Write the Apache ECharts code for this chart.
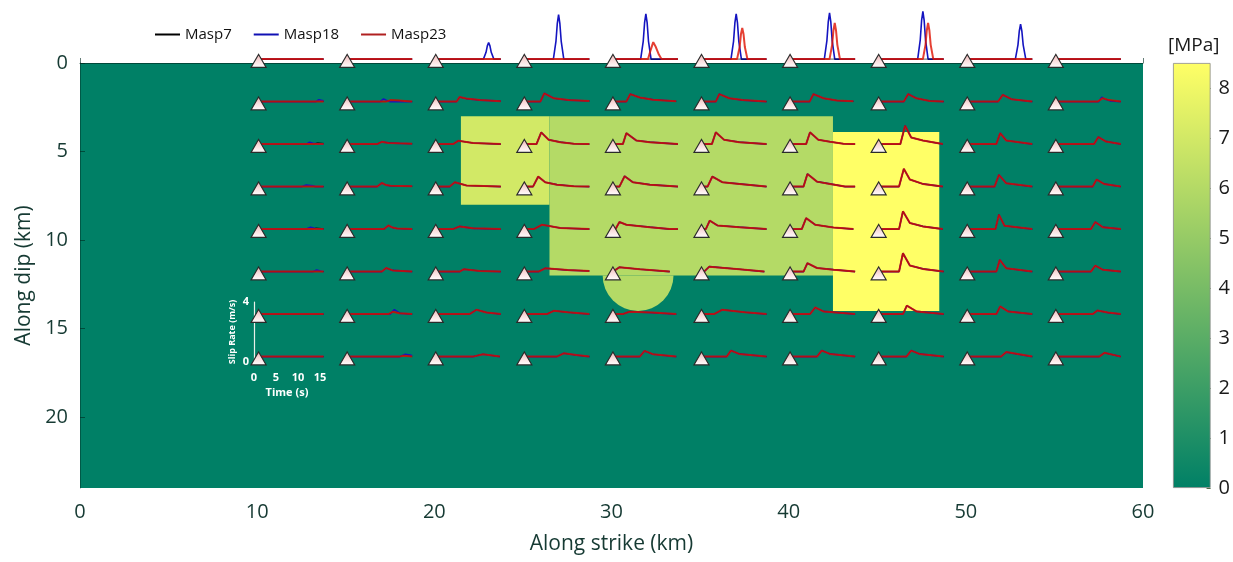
<!DOCTYPE html>
<html>
<head>
<meta charset="utf-8">
<script src="https://cdn.jsdelivr.net/npm/echarts@6/dist/echarts.min.js"></script>
<style>html,body{margin:0;padding:0;background:#fff}#chart{width:1233px;height:562px}</style>
</head>
<body>
<div id="chart"></div>
<script>
// ---------------- data ----------------
const strikeKm = [10, 15, 20, 25, 30, 35, 40, 45, 50, 55];
const dipKm = [0, 2.4, 4.8, 7.2, 9.6, 12, 14.4, 16.8];
const modelNames = ['Masp7', 'Masp18', 'Masp23'];

// prestress patches: [x0, x1, y0, y1, MPa]
const stressRects = [
  [0, 60, 0, 24, 0],
  [21.5, 26.5, 3, 8, 7],
  [26.5, 42.5, 3, 12, 6],
  [42.5, 48.5, 3.9, 14, 8.5]
];
// half disk below patch: [cx, cy, radius, MPa]
const stressDisks = [[31.5, 12, 2, 6]];
const colorbarRange = [0, 8.5];

// slip-rate keypoints per station: [time s, slip rate m/s]
const FLAT = [[0, 0], [15, 0]];

// Masp23 (rows = dip, cols = strike)
const masp23 = [
  [FLAT, FLAT, FLAT, FLAT,
   [[0,0],[8.1,0],[8.7,0.6],[9.3,1.13],[9.9,0.8],[10.6,0.3],[11.2,0],[15,0]],
   [[0,0],[8.2,0],[8.8,0.8],[9.1,1.65],[9.4,2.07],[9.7,1.65],[10.0,0.8],[10.6,0],[15,0]],
   [[0,0],[9.1,0],[9.7,0.95],[10.0,1.9],[10.3,2.4],[10.6,1.9],[10.9,0.95],[11.5,0],[15,0]],
   [[0,0],[10.2,0],[10.8,0.95],[11.1,1.9],[11.4,2.4],[11.7,1.9],[12.0,0.95],[12.6,0],[15,0]],
   FLAT, FLAT],
  [FLAT,
   [[0,0],[9,0],[10,0.1],[12,0.08],[14,0.03],[15,0]],
   [[0,0],[4.8,0],[5.5,0.3],[7,0.2],[10.2,0.1],[15,0.03]],
   [[0,0],[3.7,0],[4.6,0.55],[6.8,0.22],[10.2,0.1],[15,0.04]],
   [[0,0],[3.1,0],[4.0,0.5],[6.2,0.27],[9.2,0.13],[14.6,0.02]],
   [[0,0],[3.3,0],[4.1,0.5],[6.4,0.22],[9.5,0.1],[15,0]],
   [[0,0],[4.5,0],[5.4,0.5],[7.7,0.22],[10.8,0.07],[14.6,0.02]],
   [[0,0],[5.8,0],[6.8,0.5],[8.7,0.22],[11.8,0.04],[15,0]],
   [[0,0],[7.1,0],[8.2,0.45],[10.2,0.16],[15,0]],
   [[0,0],[9.6,0],[10.8,0.22],[12.3,0.1],[15,0]]],
  [FLAT,
   [[0,0],[6.9,0],[8,0.15],[9.5,0.08],[12,0.05],[15,0.02]],
   [[0,0],[4.0,0],[5.2,0.22],[8.6,0.07],[15,0]],
   [[0,0],[2.8,0],[3.9,0.78],[5.6,0.29],[8.3,0.13],[11.4,0.02],[15,0]],
   [[0,0],[2.3,0],[3.1,0.73],[5.4,0.24],[8.5,0.13],[15,0]],
   [[0,0],[2.4,0],[3.3,0.78],[5.2,0.29],[8.7,0.13],[15,0]],
   [[0,0],[3.7,0],[4.6,0.78],[6.5,0.29],[9.2,0.16],[12.3,0.02],[15,0]],
   [[0,0],[5.0,0],[6.1,1.22],[7.5,0.44],[10.2,0.24],[14.8,0]],
   [[0,0],[6.7,0],[7.6,0.73],[9.0,0.24],[15,0]],
   [[0,0],[8.8,0],[9.8,0.47],[11.5,0.18],[15,0]]],
  [FLAT,
   [[0,0],[6.9,0],[8,0.24],[9,0.1],[10,0.05],[15,0.02]],
   [[0,0],[3.2,0],[4.4,0.29],[7.1,0.07],[15,0]],
   [[0,0],[2.0,0],[3.2,0.67],[4.8,0.29],[7.5,0.13],[11.4,0.02],[15,0]],
   [[0,0],[1.5,0],[2.7,0.69],[4.6,0.29],[8.5,0.13],[15,0]],
   [[0,0],[1.4,0],[2.5,0.67],[4.8,0.29],[8.7,0.18],[15,0]],
   [[0,0],[3.1,0],[4.0,0.84],[6.2,0.33],[9.2,0.18],[12.7,0],[15,0]],
   [[0,0],[4.7,0],[5.8,1.18],[7.2,0.47],[10.2,0.18],[14.8,0]],
   [[0,0],[6.3,0],[7.3,0.78],[9.0,0.22],[15,0]],
   [[0,0],[8.5,0],[9.4,0.47],[11.1,0.18],[15,0]]],
  [FLAT,
   [[0,0],[8.5,0],[9.5,0.24],[10.5,0.1],[11.5,0.04],[15,0]],
   [[0,0],[4,0],[5.5,0.18],[8.6,0.05],[15,0]],
   [[0,0],[2.2,0],[4.1,0.29],[8.3,0.07],[15,0]],
   [[0,0],[0.6,0],[1.5,0.47],[3.1,0.29],[8.5,0.13],[13.1,0],[15,0]],
   [[0,0],[1.0,0],[1.9,0.56],[3.7,0.24],[8.7,0.13],[15,0]],
   [[0,0],[2.7,0],[3.7,0.73],[5.8,0.29],[10,0.11],[14.6,0]],
   [[0,0],[4.7,0],[5.6,1.18],[7.2,0.4],[10.2,0.18],[14.8,0]],
   [[0,0],[6.5,0],[7.3,0.96],[8.6,0.22],[15,0]],
   [[0,0],[8.1,0],[9.1,0.47],[10.8,0.13],[15,0]]],
  [FLAT,
   [[0,0],[8,0],[9,0.24],[10.5,0.08],[15,0]],
   [[0,0],[5.5,0],[6.5,0.16],[10.2,0.04],[15,0]],
   [[0,0],[3.3,0],[4.8,0.22],[10,0.1],[15,0.04]],
   [[0,0],[0.4,0],[1.5,0.29],[6.2,0.16],[13.1,0]],
   [[0,0],[0.6,0],[1.8,0.33],[8.7,0.16],[14.5,0]],
   [[0,0],[3.1,0],[4.0,0.56],[6.2,0.24],[10,0.13],[15,0]],
   [[0,0],[4.7,0],[5.6,1.22],[7.2,0.4],[10.2,0.18],[15,0]],
   [[0,0],[6.7,0],[7.5,0.78],[9.0,0.22],[15,0]],
   [[0,0],[8.1,0],[9.1,0.4],[10.8,0.13],[15,0]]],
  [FLAT,
   [[0,0],[9.5,0],[10.5,0.15],[12,0.06],[15,0]],
   [[0,0],[7.8,0],[9.4,0.29],[11.7,0.11],[15,0]],
   [[0,0],[5.2,0],[6.8,0.22],[10,0.12],[15,0]],
   [[0,0],[2.3,0],[3.8,0.16],[9,0.1],[14.6,0]],
   [[0,0],[2.9,0],[4.8,0.29],[10,0.12],[15,0]],
   [[0,0],[4.6,0],[5.8,0.44],[7.7,0.18],[15,0]],
   [[0,0],[5.6,0],[6.5,0.56],[8.7,0.18],[15,0]],
   [[0,0],[6.7,0],[7.6,0.51],[9.4,0.18],[15,0]],
   [[0,0],[8.5,0],[9.6,0.24],[12,0.1],[15,0]]],
  [FLAT,
   [[0,0],[12,0],[13,0.06],[15,0]],
   [[0,0],[8.6,0],[10.9,0.16],[14.8,0]],
   [[0,0],[7.5,0],[9.1,0.22],[12,0.1],[15,0]],
   [[0,0],[6.2,0],[7.3,0.38],[9.2,0.16],[14.6,0]],
   [[0,0],[5.8,0],[6.8,0.4],[8.7,0.18],[15,0]],
   [[0,0],[6.2,0],[7.3,0.4],[9.2,0.18],[15,0]],
   [[0,0],[6.4,0],[7.5,0.4],[9.4,0.18],[15,0]],
   [[0,0],[7.8,0],[9.0,0.3],[15,0]],
   [[0,0],[10,0],[11.2,0.25],[15,0]]]
];

// Masp18: null = overlaps Masp23 at that station
const masp18 = [
  [FLAT, FLAT,
   [[0,0],[11.0,0],[11.6,0.45],[11.9,0.88],[12.2,1.1],[12.5,0.88],[12.8,0.45],[13.4,0],[15,0]],
   [[0,0],[6.7,0],[7.3,1.2],[7.6,2.35],[7.9,2.95],[8.2,2.35],[8.5,1.2],[9.1,0],[15,0]],
   [[0,0],[6.4,0],[7.0,1.2],[7.3,2.4],[7.6,3.0],[7.9,2.4],[8.2,1.2],[8.8,0],[15,0]],
   [[0,0],[6.8,0],[7.4,1.2],[7.7,2.4],[8.0,3.0],[8.3,2.4],[8.6,1.2],[9.2,0],[15,0]],
   [[0,0],[7.9,0],[8.5,1.25],[8.8,2.45],[9.1,3.07],[9.4,2.45],[9.7,1.25],[10.3,0],[15,0]],
   [[0,0],[9.0,0],[9.6,1.3],[9.9,2.55],[10.2,3.17],[10.5,2.55],[10.8,1.3],[11.4,0],[15,0]],
   [[0,0],[11.1,0],[11.7,0.95],[12.0,1.85],[12.3,2.33],[12.6,1.85],[12.9,0.95],[13.5,0],[15,0]],
   FLAT],
  [[[0,0],[13.2,0],[13.9,0.12],[14.5,0.08],[15,0.05]],
   [[0,0],[7.6,0],[8.4,0.18],[9.2,0.06],[9.8,0],[15,0]],
   null, null, null, null, null, null, null,
   [[0,0],[9.9,0],[10.6,0.3],[11.4,0.15],[12.5,0.05],[15,0]]],
  [[[0,0],[11,0],[11.8,0.12],[12.8,0.03],[15,0]], null, null, null, null, null, null, null, null, null],
  [[[0,0],[10,0],[11,0.1],[12.5,0.05],[13.2,0],[15,0]], null, null, null, null, null, null, null, null, null],
  [[[0,0],[11,0],[12,0.12],[13.3,0.02],[15,0]], null, null, null, null, null, null, null, null, null],
  [[[0,0],[12.6,0],[13.4,0.1],[14.5,0.02],[15,0]], null, null, null, null, null, null, null, null, null],
  [FLAT, [[0,0],[9.9,0],[10.9,0.3],[12.2,0.05],[15,0]], null, null, null, null, null, null, null, null],
  [FLAT, [[0,0],[12.2,0],[13.4,0.16],[14.5,0.1],[15,0.05]], null, null, null, null, null, null, null, null]
];

// Masp7: null = overlaps Masp23 at that station
const masp7 = [
  [FLAT, FLAT, FLAT, FLAT, FLAT, FLAT, FLAT, FLAT, FLAT, FLAT],
  [FLAT, null, null, null, null, null, null, null, null, null],
  [[[0,0],[12.8,0],[13.6,0.1],[14.6,0.06],[15,0.05]], null, null, null, null, null, null, null, null, null],
  [FLAT, null, null, null, null, null, null, null, null, null],
  [[[0,0],[12.5,0],[13.3,0.08],[14.5,0.04],[15,0.02]], null, null, null, null, null, null, null, null, null],
  [FLAT, null, null, null, null, null, null, null, null, null],
  [FLAT, null, null, null, null, null, null, null, null, null],
  [FLAT, null, null, null, null, null, null, null, null, null]
];

// ---------------- rendering ----------------
const T_SCALE = 0.2447;   // km of strike per second of trace
const A_SCALE = 0.85;     // km of dip per m/s of slip rate
const TRACE_DY = -0.22;   // baseline offset of traces (km)
const TRI_DY = -0.12;
const STA_DX = 0.08;

function summer(v) {
  const r = Math.max(0, Math.min(1, (v - colorbarRange[0]) / (colorbarRange[1] - colorbarRange[0])));
  return 'rgb(' + Math.round(255 * r) + ',' + Math.round(255 * (0.5 + 0.5 * r)) + ',102)';
}

function traceData(model) {
  const out = [];
  dipKm.forEach((d, r) => strikeKm.forEach((s, c) => {
    const pts = model[r][c] || masp23[r][c];
    pts.forEach(p => out.push([s + STA_DX + p[0] * T_SCALE, d + TRACE_DY - p[1] * A_SCALE]));
    out.push(null);
  }));
  return out;
}

const stations = [];
dipKm.forEach(d => strikeKm.forEach(s => stations.push([s + STA_DX, d + TRI_DY])));

const FONT = 'Open Sans';
const TXT = '#163a33';

const chart = echarts.init(document.getElementById('chart'), null, {renderer: 'canvas'});
const option = {
  animation: false,
  backgroundColor: '#ffffff',
  textStyle: {fontFamily: FONT},
  title: {
    text: '[MPa]', left: 1163, top: 31,
    textStyle: {fontFamily: FONT, fontSize: 19, fontWeight: 'normal', color: '#1a1a1a'}
  },
  legend: {
    data: modelNames, left: 150, top: 22, itemGap: 22, itemWidth: 25, itemHeight: 2,
    icon: 'rect', selectedMode: false,
    textStyle: {fontFamily: FONT, fontSize: 15, color: '#111'}
  },
  grid: [
    {left: 80, top: 63, width: 1063, height: 425},
    {left: 1173, top: 63, width: 39, height: 425},
    {left: 254, top: 302, width: 66, height: 60}
  ],
  xAxis: [
    {gridIndex: 0, type: 'value', min: 0, max: 60, interval: 10,
     name: 'Along strike (km)', nameLocation: 'middle', nameGap: 46,
     nameTextStyle: {fontFamily: FONT, fontSize: 21, color: TXT},
     axisLine: {show: true, lineStyle: {color: 'rgba(0,50,40,0.7)', width: 1}},
     axisTick: {inside: true, length: 5, lineStyle: {color: 'rgba(0,40,30,0.6)'}},
     splitLine: {show: false},
     axisLabel: {fontFamily: FONT, fontSize: 20, color: TXT, margin: 14}},
    {gridIndex: 1, type: 'category', data: ['MPa'], show: false},
    {gridIndex: 2, type: 'value', min: 0, max: 15, interval: 5,
     name: 'Time (s)', nameLocation: 'middle', nameGap: 25,
     nameTextStyle: {fontFamily: FONT, fontSize: 11, fontWeight: 'bold', color: '#fff'},
     axisLine: {show: false}, axisTick: {show: false}, splitLine: {show: false},
     axisLabel: {fontFamily: FONT, fontSize: 11, fontWeight: 'bold', color: '#fff', margin: 10}}
  ],
  yAxis: [
    {gridIndex: 0, type: 'value', min: 0, max: 24, interval: 5, inverse: true,
     name: 'Along dip (km)', nameLocation: 'middle', nameGap: 38, nameRotate: 90,
     nameTextStyle: {fontFamily: FONT, fontSize: 21, color: TXT},
     axisLine: {show: true, lineStyle: {color: 'rgba(0,50,40,0.5)', width: 1}},
     axisTick: {inside: true, length: 5, lineStyle: {color: 'rgba(0,40,30,0.6)'}},
     splitLine: {show: false},
     axisLabel: {fontFamily: FONT, fontSize: 20, color: TXT, margin: 12, showMaxLabel: false}},
    {gridIndex: 1, type: 'value', min: colorbarRange[0], max: colorbarRange[1], interval: 1, position: 'right',
     axisLine: {show: false},
     axisTick: {show: true, inside: true, length: 4, lineStyle: {color: '#4a6a40'}},
     splitLine: {show: false},
     axisLabel: {fontFamily: FONT, fontSize: 20, color: '#1a1a1a', margin: 8, showMaxLabel: false}},
    {gridIndex: 2, type: 'value', min: 0, max: 4, interval: 4,
     name: 'Slip Rate (m/s)', nameLocation: 'middle', nameGap: 17, nameRotate: 90,
     nameTextStyle: {fontFamily: FONT, fontSize: 9, fontWeight: 'bold', color: '#fff'},
     axisLine: {show: true, lineStyle: {color: '#e8efe9', width: 1.2}},
     axisTick: {show: false}, splitLine: {show: false},
     axisLabel: {fontFamily: FONT, fontSize: 11, fontWeight: 'bold', color: '#fff', margin: 5}}
  ],
  series: [
    {type: 'custom', name: 'stress', xAxisIndex: 0, yAxisIndex: 0, z: 0, silent: true,
     data: stressRects,
     renderItem: function (params, api) {
       const p0 = api.coord([api.value(0), api.value(2)]);
       const p1 = api.coord([api.value(1), api.value(3)]);
       return {type: 'rect',
         shape: {x: Math.min(p0[0], p1[0]), y: Math.min(p0[1], p1[1]),
                 width: Math.abs(p1[0] - p0[0]), height: Math.abs(p1[1] - p0[1])},
         style: {fill: summer(api.value(4))}};
     }},
    {type: 'custom', name: 'stressDisk', xAxisIndex: 0, yAxisIndex: 0, z: 0, silent: true,
     data: stressDisks,
     renderItem: function (params, api) {
       const c = api.coord([api.value(0), api.value(1)]);
       const rr = api.size([api.value(2), 0])[0];
       return {type: 'sector',
         shape: {cx: c[0], cy: c[1], r: rr, r0: 0, startAngle: 0, endAngle: Math.PI, clockwise: true},
         style: {fill: summer(api.value(3))}};
     }},
    {type: 'line', name: 'Masp7', xAxisIndex: 0, yAxisIndex: 0, z: 4, clip: false,
     data: traceData(masp7), showSymbol: false, symbol: 'none', connectNulls: false,
     itemStyle: {color: '#000000'},
     lineStyle: {color: 'rgba(0,0,0,0.65)', width: 1.0}},
    {type: 'line', name: 'Masp18', xAxisIndex: 0, yAxisIndex: 0, z: 3, clip: false,
     data: traceData(masp18), showSymbol: false, symbol: 'none', connectNulls: false,
     itemStyle: {color: '#1010b4'},
     lineStyle: {color: '#1414c0', width: 1.6}},
    {type: 'line', name: 'Masp23', xAxisIndex: 0, yAxisIndex: 0, z: 5, clip: false,
     data: traceData(masp23), showSymbol: false, symbol: 'none', connectNulls: false,
     itemStyle: {color: '#b02020'},
     lineStyle: {color: 'rgba(222,16,0,0.8)', width: 2}},
    {type: 'scatter', name: 'stations', xAxisIndex: 0, yAxisIndex: 0, z: 6, clip: false, silent: true,
     data: stations, symbol: 'triangle', symbolSize: [15, 13],
     itemStyle: {
       opacity: 1,
       color: new echarts.graphic.LinearGradient(0, 0, 0, 1, [
         {offset: 0, color: '#eeb0b0'}, {offset: 0.5, color: '#f9dede'}, {offset: 1, color: '#ffffff'}]),
       borderColor: '#2b2b2b', borderWidth: 1.2}},
    {type: 'bar', name: 'colorbar', xAxisIndex: 1, yAxisIndex: 1, silent: true,
     data: [colorbarRange[1]], barWidth: '100%',
     itemStyle: {
       color: new echarts.graphic.LinearGradient(0, 0, 0, 1, [
         {offset: 0, color: summer(colorbarRange[1])}, {offset: 1, color: summer(colorbarRange[0])}]),
       borderColor: '#8a8a8a', borderWidth: 0.8}},
    {type: 'line', name: 'scale', xAxisIndex: 2, yAxisIndex: 2, data: [], silent: true}
  ]
};
chart.setOption(option);
</script>
</body>
</html>
